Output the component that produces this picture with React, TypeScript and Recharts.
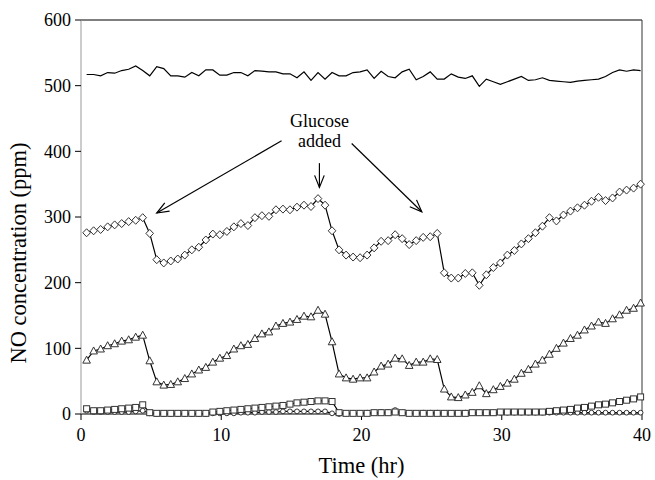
import React from 'react';
import { LineChart, Line, XAxis, YAxis, ReferenceLine } from 'recharts';

// sampling times (hr)
const times = [
  0.4, 0.9, 1.4, 1.9, 2.4, 2.9, 3.4, 3.9, 4.4, 4.9,
  5.4, 5.9, 6.4, 6.9, 7.4, 7.9, 8.4, 8.9, 9.4, 9.9,
  10.4, 10.9, 11.4, 11.9, 12.4, 12.9, 13.4, 13.9, 14.4, 14.9,
  15.4, 15.9, 16.4, 16.9, 17.4, 17.9, 18.4, 18.9, 19.4, 19.9,
  20.4, 20.9, 21.4, 21.9, 22.4, 22.9, 23.4, 23.9, 24.4, 24.9,
  25.4, 25.9, 26.4, 26.9, 27.4, 27.9, 28.4, 28.9, 29.4, 29.9,
  30.4, 30.9, 31.4, 31.9, 32.4, 32.9, 33.4, 33.9, 34.4, 34.9,
  35.4, 35.9, 36.4, 36.9, 37.4, 37.9, 38.4, 38.9, 39.4, 39.9,
];

// inlet NO, plain line
const inletNO = [
  517, 517, 515, 520, 519, 523, 525, 530, 523, 515,
  529, 526, 515, 515, 513, 520, 515, 524, 524, 516,
  516, 520, 520, 515, 523, 522, 521, 521, 518, 518,
  512, 521, 508, 520, 510, 520, 515, 515, 520, 521,
  524, 511, 522, 514, 512, 521, 525, 509, 514, 521,
  510, 510, 518, 513, 511, 515, 499, 510, 506, 502,
  506, 510, 514, 508, 509, 512, 508, 507, 506, 505,
  507, 508, 509, 510, 514, 520, 524, 522, 524, 523,
];

// diamonds
const diamondNO = [
  276, 279, 281, 285, 288, 290, 293, 295, 299, 275,
  235, 230, 233, 236, 242, 250, 254, 265, 274, 273,
  278, 285, 290, 287, 299, 302, 301, 311, 312, 311,
  315, 318, 316, 328, 318, 279, 250, 242, 239, 238,
  242, 253, 263, 264, 273, 267, 258, 264, 269, 270,
  275, 215, 207, 207, 214, 215, 196, 212, 223, 230,
  242, 249, 259, 267, 276, 286, 299, 294, 303, 309,
  314, 318, 324, 330, 325, 329, 338, 341, 344, 350,
];

// triangles
const triangleNO = [
  82, 96, 99, 104, 107, 111, 113, 117, 120, 81,
  49, 44, 45, 49, 54, 61, 67, 71, 79, 85,
  89, 99, 104, 106, 115, 122, 125, 134, 138, 140,
  144, 149, 148, 158, 152, 110, 61, 55, 53, 55,
  55, 64, 73, 76, 85, 84, 74, 79, 79, 84,
  83, 38, 26, 25, 29, 33, 43, 31, 37, 42,
  47, 53, 62, 68, 76, 82, 91, 100, 108, 115,
  120, 128, 134, 140, 138, 145, 151, 158, 161, 169,
];

// squares
const squareNO = [
  8, 5, 5, 6, 7, 8, 9, 10, 14, 2,
  1, 1, 1, 1, 1, 1, 1, 1, 3, 4,
  5, 6, 7, 8, 9, 10, 11, 12, 13, 15,
  17, 18, 19, 20, 20, 19, 2, 1, 1, 1,
  1, 2, 2, 2, 3, 2, 1, 1, 1, 1,
  1, 1, 1, 1, 1, 2, 2, 2, 2, 3,
  3, 3, 3, 3, 3, 3, 4, 5, 6, 7,
  9, 10, 12, 14, 15, 17, 19, 21, 23, 26,
];

// circles
const circleNO = [
  5, 3, 3, 3, 3, 3, 3, 4, 5, 1,
  0, 0, 0, 0, 0, 0, 0, 0, 1, 1,
  1, 1, 2, 2, 2, 3, 3, 3, 4, 4,
  4, 4, 4, 4, 4, 1, 0, 1, 1, 1,
  2, 2, 3, 3, 6, 2, 1, 1, 2, 2,
  2, 1, 1, 1, 2, 2, 2, 2, 2, 2,
  2, 2, 2, 2, 2, 2, 2, 2, 2, 2,
  2, 2, 2, 2, 2, 2, 2, 2, 2, 2,
];

const xTicks = [0, 10, 20, 30, 40];
const yTicks = [0, 100, 200, 300, 400, 500, 600];

// glucose additions: [fromTime, fromNO, toTime, toNO]
const arrows = [
  [14.3, 416, 5.4, 306],
  [17.0, 382, 17.0, 345],
  [19.3, 412, 24.3, 308],
];

const data = times.map((t, i) => ({
  t,
  inlet: inletNO[i],
  dia: diamondNO[i],
  tri: triangleNO[i],
  sq: squareNO[i],
  circ: circleNO[i],
}));

const FONT = 'Liberation Serif, Tinos, Times New Roman, DejaVu Serif, serif';
const MARK = '#333';

const diamondDot = (p: any) => (
  <polygon
    key={`d${p.index}`}
    points={`${p.cx},${p.cy - 4} ${p.cx + 3.8},${p.cy} ${p.cx},${p.cy + 4} ${p.cx - 3.8},${p.cy}`}
    fill="#fff"
    stroke={MARK}
    strokeWidth={1}
  />
);

const triangleDot = (p: any) => (
  <polygon
    key={`t${p.index}`}
    points={`${p.cx},${p.cy - 4} ${p.cx + 3.8},${p.cy + 3} ${p.cx - 3.8},${p.cy + 3}`}
    fill="#fff"
    stroke={MARK}
    strokeWidth={1}
  />
);

const squareDot = (p: any) => (
  <rect key={`s${p.index}`} x={p.cx - 3} y={p.cy - 3} width={6} height={6} fill="#fff" stroke={MARK} strokeWidth={1} />
);

const circleDot = (p: any) => (
  <circle key={`c${p.index}`} cx={p.cx} cy={p.cy} r={2.4} fill="#fff" stroke={MARK} strokeWidth={1} />
);

const arrowShape = (withText: boolean) => (p: any) => {
  const { x1, y1, x2, y2 } = p;
  const ang = Math.atan2(y2 - y1, x2 - x1);
  const len = 13;
  const spread = 0.38;
  const ax = x2 - len * Math.cos(ang - spread);
  const ay = y2 - len * Math.sin(ang - spread);
  const bx = x2 - len * Math.cos(ang + spread);
  const by = y2 - len * Math.sin(ang + spread);
  return (
    <g>
      <line x1={x1} y1={y1} x2={x2} y2={y2} stroke="#000" strokeWidth={1.2} />
      <polyline points={`${ax},${ay} ${x2},${y2} ${bx},${by}`} fill="none" stroke="#000" strokeWidth={1.2} />
      {withText && (
        <text x={x1} textAnchor="middle" style={{ fontFamily: FONT, fontSize: 18 }} fill="#000">
          <tspan x={x1} y={y1 - 36}>Glucose</tspan>
          <tspan x={x1} y={y1 - 16}>added</tspan>
        </text>
      )}
    </g>
  );
};

const yLabel = (props: any) => {
  const vb = props.viewBox;
  const cx = 21;
  const cy = vb.y + vb.height / 2 + 36;
  return (
    <text
      x={cx}
      y={cy}
      transform={`rotate(-90, ${cx}, ${cy})`}
      textAnchor="middle"
      dominantBaseline="middle"
      style={{ fontFamily: FONT, fontSize: 22.5 }}
      fill="#000"
    >
      NO concentration (ppm)
    </text>
  );
};

export default function App() {
  return (
    <div style={{ position: 'absolute', left: 0, top: 0, width: 655, height: 480, background: '#fff', fontFamily: FONT }}>
      <LineChart width={655} height={480} data={data} margin={{ top: 20, right: 13, left: 0, bottom: 0 }} style={{ fontFamily: FONT }}>
        <XAxis
          dataKey="t"
          type="number"
          domain={[0, 40]}
          ticks={xTicks}
          tick={{ fontSize: 18, fill: '#000', style: { fontFamily: FONT } }}
          tickLine={{ stroke: '#000' }}
          axisLine={{ stroke: '#000' }}
          tickSize={6}
          tickMargin={8}
          height={66}
          label={{ value: 'Time (hr)', position: 'insideBottom', offset: 7, style: { fontSize: 22.5, fill: '#000', fontFamily: FONT } }}
        />
        <YAxis
          domain={[0, 600]}
          ticks={yTicks}
          tick={{ fontSize: 18, fill: '#000', style: { fontFamily: FONT } }}
          tickLine={{ stroke: '#000' }}
          axisLine={{ stroke: '#999' }}
          tickSize={6}
          tickMargin={4}
          width={81}
          label={{ content: yLabel }}
        />
        <ReferenceLine y={600} stroke="#000" strokeWidth={1} />
        <ReferenceLine x={40} stroke="#333" strokeWidth={1} />

        <Line dataKey="inlet" type="linear" stroke="#000" strokeWidth={1.2} dot={false} isAnimationActive={false} />
        <Line dataKey="circ" type="linear" stroke="#000" strokeWidth={1.2} dot={circleDot} isAnimationActive={false} />
        <Line dataKey="sq" type="linear" stroke="#000" strokeWidth={1.2} dot={squareDot} isAnimationActive={false} />
        <Line dataKey="tri" type="linear" stroke="#000" strokeWidth={1.2} dot={triangleDot} isAnimationActive={false} />
        <Line dataKey="dia" type="linear" stroke="#000" strokeWidth={1.2} dot={diamondDot} isAnimationActive={false} />

        {arrows.map((a, i) => (
          <ReferenceLine
            key={i}
            segment={[{ x: a[0], y: a[1] }, { x: a[2], y: a[3] }]}
            shape={arrowShape(i === 1)}
            ifOverflow="visible"
          />
        ))}
      </LineChart>
    </div>
  );
}
